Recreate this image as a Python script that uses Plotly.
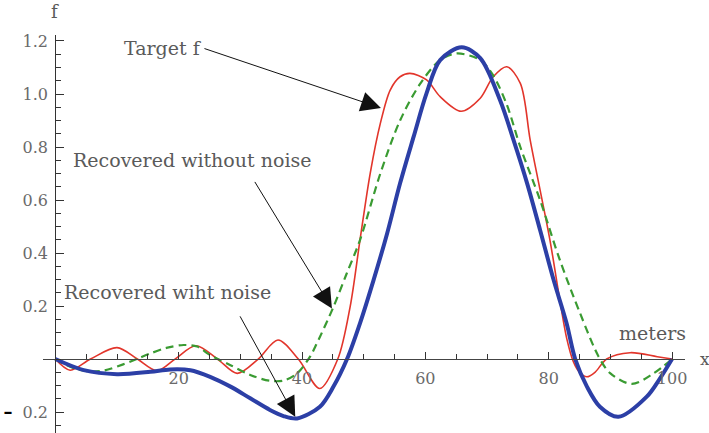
import plotly.graph_objects as go

# ---- data ----
target_x = [0, 2.4, 5.7, 10, 13.3, 16.5, 19.4, 22.8, 26.3, 29.5, 32.9, 36.1, 39.4, 42.9, 45.8,
            47.8, 49.4, 51.05, 52.7, 54.3, 55.9, 57.5, 60.2, 62.4, 65.8, 68.9, 71.0, 73.2, 75.4,
            77, 78.6, 80.2, 81.8, 82.9, 84, 85, 86.2, 87.5, 89.4, 93.2, 97.6, 100]
target_y = [0, -0.042, 0, 0.043, 0, -0.044, 0, 0.05, 0, -0.054, 0, 0.072, 0, -0.111, 0,
            0.197, 0.449, 0.70, 0.889, 1.015, 1.065, 1.078, 1.053, 0.99, 0.935, 0.984, 1.065, 1.103, 1.04,
            0.826, 0.638, 0.449, 0.223, 0.08, -0.01, -0.05, -0.067, -0.05, 0, 0.024, 0.009, 0]

clean_x = [0, 3, 5.7, 8, 11, 13.2, 15.4, 18, 20.8, 23, 25.1, 28.4, 31.6, 34.8, 37, 39.2, 41.3,
           42.4, 45.1, 47.2, 49.4, 52.7, 55.9, 59.2, 62.4, 65.1, 68.9, 71, 73.2, 75.4, 78.6, 81.8,
           85.1, 88.1, 90, 93.5, 97, 100]
clean_y = [0, -0.035, -0.047, -0.043, -0.02, 0, 0.021, 0.042, 0.053, 0.047, 0.015, -0.023, -0.06,
           -0.082, -0.081, -0.054, 0.009, 0.059, 0.197, 0.32, 0.449, 0.70, 0.90, 1.04, 1.128, 1.153,
           1.128, 1.07, 0.96, 0.80, 0.60, 0.374, 0.172, 0.009, -0.054, -0.094, -0.054, 0]

noisy_x = [0, 4.6, 10, 15.4, 18.6, 21.9, 25.1, 28.4, 31.6, 34.8, 37, 39.2, 42.9, 45.1, 47.3, 49.4,
           51.6, 53.8, 55.9, 58.1, 60.2, 62.4, 65.9, 68.9, 72.1, 74.3, 76.5, 78.6, 80.8, 82.9, 84.3,
           86.2, 88.3, 91.3, 95.9, 98, 100]
noisy_y = [0, -0.042, -0.057, -0.048, -0.039, -0.042, -0.067, -0.104, -0.148, -0.192, -0.215, -0.224,
           -0.18, -0.104, 0, 0.135, 0.298, 0.474, 0.663, 0.839, 1.003, 1.128, 1.176, 1.135, 0.977,
           0.826, 0.663, 0.487, 0.298, 0.135, 0, -0.104, -0.18, -0.218, -0.142, -0.075, 0]

x_ticks = [20, 40, 60, 80, 100]
x_ticktext = ["20", "40", "60", "80", "100"]
y_ticks = [-0.2, 0.2, 0.4, 0.6, 0.8, 1.0, 1.2]
y_ticktext = ["<span style='color:black;font-size:18px'><b>\u2013</b></span>\u00a0\u00a00.2", "0.2", "0.4", "0.6",
              "0.8", "1.0", "1.2"]

XMIN, XMAX = -2.0, 102.1
YMIN, YMAX = -0.279, 1.2226

FONT = "DejaVu Serif"
GREY = "#5a5a5a"
TICKGREY = "#6a6a6a"

fig = go.Figure()
fig.add_trace(go.Scatter(x=target_x, y=target_y, mode="lines",
                         line=dict(color="#e2352b", width=1.6, shape="spline", smoothing=0.9),
                         name="Target f"))
fig.add_trace(go.Scatter(x=clean_x, y=clean_y, mode="lines",
                         line=dict(color="#3a9b32", width=2.2, dash="8px,5px", shape="spline", smoothing=0.9),
                         name="Recovered without noise"))
fig.add_trace(go.Scatter(x=noisy_x, y=noisy_y, mode="lines",
                         line=dict(color="#2c3fa6", width=4, shape="spline", smoothing=0.9),
                         name="Recovered wiht noise"))

xpos = (0 - YMIN) / (YMAX - YMIN)
ypos = (0 - XMIN) / (XMAX - XMIN)

fig.update_layout(
    width=709, height=433,
    margin=dict(l=43, r=24, t=35, b=0, autoexpand=False),
    paper_bgcolor="white", plot_bgcolor="white",
    showlegend=False,
    font=dict(family=FONT, size=16, color=GREY),
    xaxis=dict(range=[XMIN, XMAX], showgrid=False, zeroline=False, showline=True,
               linecolor="#444444", linewidth=1.2, anchor="free", position=xpos, automargin=False,
               tickmode="array", tickvals=x_ticks, ticktext=x_ticktext,
               ticks="inside", ticklen=7, tickcolor="#333333", tickwidth=1, ticklabelstandoff=5,
               minor=dict(ticks="inside", ticklen=5, tick0=0, dtick=5, tickcolor="#333333", tickwidth=1),
               tickfont=dict(family=FONT, size=16, color=TICKGREY)),
    yaxis=dict(range=[YMIN, YMAX], showgrid=False, zeroline=False, showline=True,
               linecolor="#333333", linewidth=1.2, anchor="free", position=ypos, automargin=False,
               tickmode="array", tickvals=y_ticks, ticktext=y_ticktext,
               ticks="inside", ticklen=8, tickcolor="#333333", tickwidth=1, ticklabelstandoff=4,
               minor=dict(ticks="inside", ticklen=5, tick0=0, dtick=0.05, tickcolor="#333333", tickwidth=1),
               tickfont=dict(family=FONT, size=16, color=TICKGREY)),
)

# arrows (tip at curve point, tail offset in pixels)
arrows = [
    (52.8, 0.947, -178, -60),
    (44.85, 0.191, -78, -128),
    (38.9, -0.218, -56, -102),
]
for ax_, ay_, dx, dy in arrows:
    fig.add_annotation(x=ax_, y=ay_, xref="x", yref="y", text="", showarrow=True,
                       ax=dx, ay=dy, arrowhead=2, arrowsize=4, arrowwidth=1,
                       arrowcolor="#111111", standoff=0)

labels = [
    ("Target f", 17.5, "x", 1.174, "y", 19),
    ("Recovered without noise", 22.2, "x", 0.751, "y", 19),
    ("Recovered wiht noise", 18.15, "x", 0.253, "y", 19),
    ("meters", 96.8, "x", 0.098, "y", 19),
    ("x", 1.031, "paper", 0.0, "y", 17),
    ("f", 0, "x", 1.058, "paper", 18),
]
for txt, lx, xr, ly, yr, sz in labels:
    fig.add_annotation(x=lx, y=ly, xref=xr, yref=yr, text=txt, showarrow=False,
                       xanchor="center", yanchor="middle",
                       font=dict(family=FONT, size=sz, color=GREY))

fig.write_html("out.html", config={"displayModeBar": False},
               post_script="document.body.style.margin='0px';")
